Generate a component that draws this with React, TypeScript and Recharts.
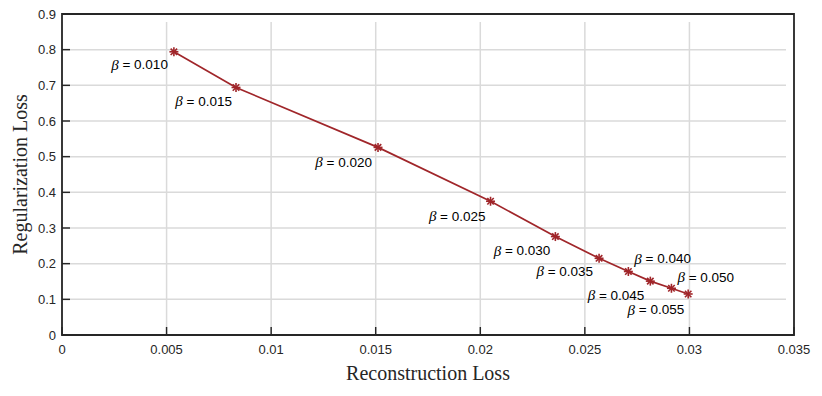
import { LineChart, Line, XAxis, YAxis, CartesianGrid, ReferenceArea, LabelList } from 'recharts'

const betas = ['0.010', '0.015', '0.020', '0.025', '0.030', '0.035', '0.040', '0.045', '0.050', '0.055']
const reconLoss = [0.00535, 0.00832, 0.01511, 0.02049, 0.02359, 0.02568, 0.02708, 0.02813, 0.02914, 0.02994]
const regLoss = [0.794, 0.694, 0.526, 0.375, 0.276, 0.215, 0.178, 0.151, 0.131, 0.115]
const xTicks = [0, 0.005, 0.01, 0.015, 0.02, 0.025, 0.03, 0.035]
const yTicks = [0, 0.1, 0.2, 0.3, 0.4, 0.5, 0.6, 0.7, 0.8, 0.9]

const data = reconLoss.map((r, i) => ({ recon: r, reg: regLoss[i], beta: betas[i] }))

// where each beta annotation sits relative to its point
const labelPlacement: [string, number, number][] = [
  ['end', -6, 13],
  ['end', -4, 14],
  ['end', -6, 15],
  ['end', -5, 15],
  ['end', -5, 14],
  ['end', -6, 13],
  ['start', 6, -13],
  ['end', -6, 14],
  ['start', 6, -11],
  ['end', -4, 16],
]

const W = 822
const H = 396
const M = { top: 14, right: 28, left: 0, bottom: 0 }
const Y_AXIS_W = 62
const X_AXIS_H = 61
const PLOT_W = W - Y_AXIS_W - M.right
const PLOT_H = H - M.top - X_AXIS_H

const RED = '#a0262a'
const AXIS = '#262626'
const GRID = '#dadada'
const SANS = "'Liberation Sans', Arial, sans-serif"
const SERIF = "'Liberation Serif', 'Times New Roman', serif"
const TICK_LEN = 8
const GAP = 6

// grid is painted over the axis layer, so leave its ends open where the ticks are
const vGridDash = `0 ${TICK_LEN} ${PLOT_H - 2 * TICK_LEN} ${TICK_LEN}`
const hGridDash = `0 ${TICK_LEN} ${PLOT_W - 2 * TICK_LEN} ${TICK_LEN}`

const Asterisk = (props: any) => {
  const { cx, cy, index } = props
  const r = 4.5
  const d = r * 0.72
  return (
    <g key={`m-${index}`} stroke={RED} strokeWidth={1.6}>
      <line x1={cx - r} y1={cy} x2={cx + r} y2={cy} />
      <line x1={cx} y1={cy - r} x2={cx} y2={cy + r} />
      <line x1={cx - d} y1={cy - d} x2={cx + d} y2={cy + d} />
      <line x1={cx - d} y1={cy + d} x2={cx + d} y2={cy - d} />
    </g>
  )
}

const BetaLabel = (props: any) => {
  const { x, y, index, value } = props
  const [anchor, dx, dy] = labelPlacement[index]
  return (
    <text x={x + dx} y={y + dy} textAnchor={anchor} dominantBaseline="central" fontFamily={SANS} fontSize={13.5} fill="#000">
      <tspan fontFamily={SERIF} fontStyle="italic" fontSize={15}>β</tspan>
      {` = ${value}`}
    </text>
  )
}

// inward ticks, MATLAB style; tickSize is 0 so x/y arrive GAP px away from the axis line
const BottomTick = (props: any) => {
  const { x, y, payload } = props
  const y0 = y - GAP
  return (
    <g>
      <line x1={x} y1={y0} x2={x} y2={y0 - TICK_LEN} stroke={AXIS} strokeWidth={1.5} />
      <text x={x} y={y0 + 19} textAnchor="middle" fontFamily={SANS} fontSize={13} fill={AXIS}>
        {String(payload.value)}
      </text>
    </g>
  )
}

const LeftTick = (props: any) => {
  const { x, y, payload } = props
  const x0 = x + GAP
  return (
    <g>
      <line x1={x0} y1={y} x2={x0 + TICK_LEN} y2={y} stroke={AXIS} strokeWidth={1.5} />
      <text x={x0 - 6} y={y} textAnchor="end" dominantBaseline="central" fontFamily={SANS} fontSize={13} fill={AXIS}>
        {String(payload.value)}
      </text>
    </g>
  )
}

const TopTick = (props: any) => {
  const { x, y } = props
  const y0 = y + GAP
  return <line x1={x} y1={y0} x2={x} y2={y0 + TICK_LEN} stroke={AXIS} strokeWidth={1.5} />
}

const RightTick = (props: any) => {
  const { x, y } = props
  const x0 = x - GAP
  return <line x1={x0} y1={y} x2={x0 - TICK_LEN} y2={y} stroke={AXIS} strokeWidth={1.5} />
}

const XTitle = (props: any) => {
  const { x, y, width } = props.viewBox
  return (
    <text x={x + width / 2} y={y + 45} textAnchor="middle" fontFamily={SERIF} fontSize={20} fill={AXIS}>
      Reconstruction Loss
    </text>
  )
}

const YTitle = (props: any) => {
  const { y, height } = props.viewBox
  const cx = 27
  const cy = y + height / 2
  return (
    <text x={cx} y={cy} transform={`rotate(-90, ${cx}, ${cy})`} textAnchor="middle" fontFamily={SERIF} fontSize={20} fill={AXIS}>
      Regularization Loss
    </text>
  )
}

export default function App() {
  return (
    <div style={{ position: 'absolute', left: 0, top: 0, width: W, height: H, background: '#fff' }}>
      <LineChart width={W} height={H} data={data} margin={M}>
        <CartesianGrid horizontal={false} stroke={GRID} strokeWidth={1.5} strokeDasharray={vGridDash} />
        <CartesianGrid vertical={false} stroke={GRID} strokeWidth={1.5} strokeDasharray={hGridDash} />
        <XAxis
          dataKey="recon"
          type="number"
          domain={[0, 0.035]}
          ticks={xTicks}
          height={X_AXIS_H}
          axisLine={false}
          tickLine={false}
          tickSize={0}
          tickMargin={GAP}
          tick={BottomTick}
          interval={0}
          label={{ content: XTitle }}
        />
        <XAxis
          xAxisId="top"
          orientation="top"
          dataKey="recon"
          type="number"
          domain={[0, 0.035]}
          ticks={xTicks}
          height={0}
          axisLine={false}
          tickLine={false}
          tickSize={0}
          tickMargin={GAP}
          tick={TopTick}
          interval={0}
        />
        <YAxis
          type="number"
          domain={[0, 0.9]}
          ticks={yTicks}
          width={Y_AXIS_W}
          axisLine={false}
          tickLine={false}
          tickSize={0}
          tickMargin={GAP}
          tick={LeftTick}
          interval={0}
          label={{ content: YTitle }}
        />
        <YAxis
          yAxisId="right"
          orientation="right"
          type="number"
          domain={[0, 0.9]}
          ticks={yTicks}
          width={0}
          axisLine={false}
          tickLine={false}
          tickSize={0}
          tickMargin={GAP}
          tick={RightTick}
          interval={0}
        />
        <ReferenceArea x1={0} x2={0.035} y1={0} y2={0.9} fill="none" stroke={AXIS} strokeWidth={1.8} />
        <Line
          dataKey="reg"
          stroke={RED}
          strokeWidth={1.7}
          dot={Asterisk}
          activeDot={false}
          isAnimationActive={false}
        >
          <LabelList dataKey="beta" content={BetaLabel} />
        </Line>
      </LineChart>
    </div>
  )
}
